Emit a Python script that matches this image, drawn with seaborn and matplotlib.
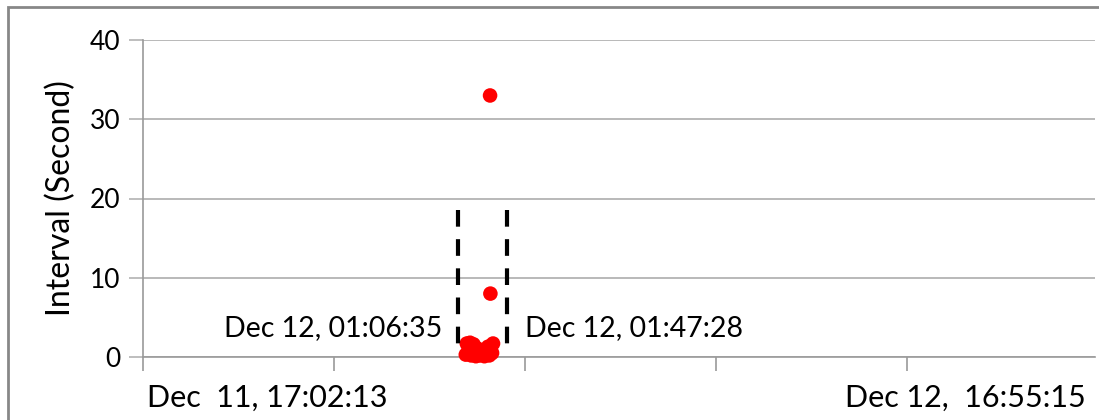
import pandas as pd
import matplotlib.pyplot as plt
import seaborn as sns
from matplotlib.patches import Rectangle

# timestamps of the observed requests and the interval before each one (s)
start_time = "2011-12-11 17:02:13"
end_time = "2011-12-12 16:55:15"
times = ["2011-12-12 01:06:35", "2011-12-12 01:08:05", "2011-12-12 01:09:50",
         "2011-12-12 01:11:20", "2011-12-12 01:13:00", "2011-12-12 01:14:40",
         "2011-12-12 01:16:30", "2011-12-12 01:18:10", "2011-12-12 01:20:00",
         "2011-12-12 01:21:45", "2011-12-12 01:23:30", "2011-12-12 01:25:20",
         "2011-12-12 01:27:10", "2011-12-12 01:29:00", "2011-12-12 01:30:50",
         "2011-12-12 01:32:40", "2011-12-12 01:34:30", "2011-12-12 01:36:20",
         "2011-12-12 01:38:10", "2011-12-12 01:40:00", "2011-12-12 01:41:50",
         "2011-12-12 01:43:00", "2011-12-12 01:43:30", "2011-12-12 01:44:40",
         "2011-12-12 01:46:00", "2011-12-12 01:47:28"]
intervals = [0.3, 1.7, 0.6, 1.2, 1.8, 0.2, 0.9, 1.6, 0.4, 0.1, 1.1, 0.5, 0.2,
             0.8, 0.3, 0.6, 0.1, 0.9, 0.4, 1.3, 0.2, 33, 8, 0.7, 0.5, 1.7]

# bracket around the burst
bracket_times = ["2011-12-12 00:55:20", "2011-12-12 02:09:00"]
bracket_range = [0.9, 18.5]
burst_labels = ["Dec 12, 01:06:35", "Dec 12, 01:47:28"]
axis_labels = ["Dec  11, 17:02:13", "Dec 12,  16:55:15"]


def hours_since_start(ts):
    return (pd.to_datetime(ts) - pd.to_datetime(start_time)) / pd.Timedelta(hours=1)


df = pd.DataFrame({"hours": hours_since_start(pd.Series(times)), "interval": intervals})
span = hours_since_start(end_time)
bracket_x = hours_since_start(pd.Series(bracket_times))

sns.set_style("white")
plt.rcParams['font.family'] = ['Lato', 'DejaVu Sans']
plt.rcParams['text.color'] = 'black'
plt.rcParams['axes.labelcolor'] = 'black'
plt.rcParams['ytick.labelcolor'] = 'black'

fig = plt.figure(figsize=(10.99, 4.2), dpi=100)
ax = fig.add_axes([143 / 1099, 63 / 420, 952 / 1099, 317 / 420])

# outer chart border (Excel style)
fig.patches.append(Rectangle((8 / 1099, -0.1), 1.2, (420 - 7) / 420 + 0.1,
                             transform=fig.transFigure, fill=False,
                             edgecolor="#878787", linewidth=2))

sns.scatterplot(data=df, x="hours", y="interval", ax=ax, color="red",
                s=110, edgecolor="none", legend=False, zorder=3, clip_on=False)

for bx in bracket_x:
    ax.plot([bx, bx], [bracket_range[1], bracket_range[0]], color="black",
            linewidth=3, dashes=(4, 3), zorder=4, solid_capstyle="butt")

ax.set_xlim(0, span * 952 / 955)
ax.set_ylim(0, 40)
ax.set_yticks([0, 10, 20, 30, 40])
ax.set_xticks([span * i / 5 for i in range(5)])
ax.set_xticklabels([])
ax.grid(axis="y", color="#b3b3b3", linewidth=1.3)
ax.set_axisbelow(True)
for side in ["top", "right"]:
    ax.spines[side].set_visible(False)
for side in ["left", "bottom"]:
    ax.spines[side].set_color("#9a9a9a")
    ax.spines[side].set_linewidth(1.2)
ax.tick_params(axis="y", length=10, width=1.2, color="#b3b3b3",
               labelsize=19, pad=6, left=True)
ax.tick_params(axis="x", length=10, width=1.2, color="#9a9a9a", bottom=True)

ax.set_xlabel("")
ax.set_ylabel("Interval (Second)", fontsize=23, labelpad=10)

ax.text(bracket_x[0] - 0.4, 3.6, burst_labels[0], ha="right", va="center", fontsize=20.5)
ax.text(bracket_x[1] + 0.45, 3.6, burst_labels[1], ha="left", va="center", fontsize=20.5)

xt = ax.get_xaxis_transform()
ax.text(0.1, -0.13, axis_labels[0], transform=xt, ha="left", va="center", fontsize=22)
ax.text(span - 0.3, -0.13, axis_labels[1], transform=xt, ha="right", va="center", fontsize=22)

fig.savefig("out.png", dpi=100)
